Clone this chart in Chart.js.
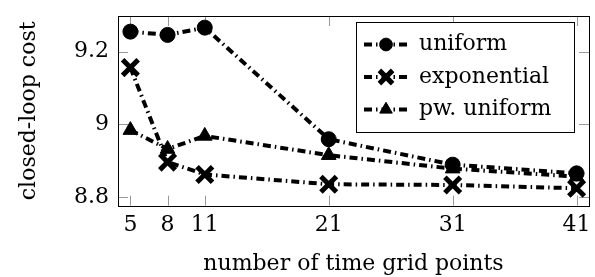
<!DOCTYPE html>
<html>
<head>
<meta charset="utf-8">
<script src="https://cdn.jsdelivr.net/npm/chart.js@4.4.1/dist/chart.umd.min.js"></script>
<style>
  html, body { margin: 0; padding: 0; background: #fff; overflow: hidden; }
  #wrap { width: 605px; height: 277px; }
</style>
</head>
<body>
<div id="wrap"><canvas id="costChart" width="605" height="277"></canvas></div>
<script>
// values
const gridPoints = [5, 8, 11, 21, 31, 41];
const uniformCost = [9.255, 9.246, 9.266, 8.959, 8.889, 8.865];
const exponentialCost = [9.156, 8.896, 8.862, 8.835, 8.833, 8.824];
const pwUniformCost = [8.984, 8.932, 8.968, 8.915, 8.878, 8.856];
const seriesLabels = ['uniform', 'exponential', 'pw. uniform'];
const xTicks = [5, 8, 11, 21, 31, 41];
const yTicks = [8.8, 9, 9.2];
const yTickLabels = ['8.8', '9', '9.2'];

const serif = '"DejaVu Serif", serif';
const dashDot = [8, 4, 1.5, 4];

function makeSeries(label, values, pointStyle, radius, markerWidth) {
  return {
    label: label,
    data: gridPoints.map((g, i) => ({ x: g, y: values[i] })),
    borderColor: '#000',
    backgroundColor: '#000',
    borderWidth: 4,
    borderDash: dashDot,
    pointStyle: pointStyle,
    pointRadius: radius,
    pointBorderWidth: markerWidth,
    pointBackgroundColor: '#000',
    pointBorderColor: '#000',
    tension: 0
  };
}

// frame + inward ticks on all four sides, like pgfplots
const framePlugin = {
  id: 'frame',
  beforeDatasetsDraw(chart) {
    const { ctx, chartArea: a, scales: { x, y } } = chart;
    ctx.save();
    ctx.strokeStyle = '#999';
    ctx.lineWidth = 1;
    ctx.beginPath();
    x.ticks.forEach(t => {
      const px = Math.round(x.getPixelForValue(t.value)) + 0.5;
      ctx.moveTo(px, a.bottom); ctx.lineTo(px, a.bottom - 10);
      ctx.moveTo(px, a.top); ctx.lineTo(px, a.top + 10);
    });
    y.ticks.forEach(t => {
      const py = Math.round(y.getPixelForValue(t.value)) + 0.5;
      ctx.moveTo(a.left, py); ctx.lineTo(a.left + 10, py);
      ctx.moveTo(a.right, py); ctx.lineTo(a.right - 10, py);
    });
    ctx.stroke();
    ctx.strokeStyle = '#000';
    ctx.strokeRect(Math.round(a.left) + 0.5, Math.round(a.top) + 0.5, Math.round(a.width), Math.round(a.height));
    ctx.restore();
  }
};

// boxed legend in the upper right corner with line sample + marker
const boxLegend = {
  id: 'boxLegend',
  afterDatasetsDraw(chart) {
    const { ctx, chartArea: a } = chart;
    const w = 218, h = 110;
    const right = a.right - 15, top = a.top + 6, left = right - w;
    ctx.save();
    ctx.fillStyle = '#fff';
    ctx.fillRect(left, top, w, h);
    ctx.strokeStyle = '#000';
    ctx.lineWidth = 1;
    ctx.strokeRect(Math.round(left) + 0.5, Math.round(top) + 0.5, w, h);
    chart.data.datasets.forEach((ds, i) => {
      const cy = top + 22.5 + i * 32.5;
      const x0 = left + 8;
      ctx.setLineDash(ds.borderDash);
      ctx.lineWidth = ds.borderWidth;
      ctx.strokeStyle = '#000';
      ctx.beginPath();
      ctx.moveTo(x0, cy);
      ctx.lineTo(x0 + 44, cy);
      ctx.stroke();
      ctx.setLineDash([]);
      ctx.fillStyle = '#000';
      ctx.lineWidth = ds.pointBorderWidth;
      if (Chart.helpers && Chart.helpers.drawPoint) {
        Chart.helpers.drawPoint(ctx, {
          pointStyle: ds.pointStyle,
          radius: ds.pointRadius * 0.85,
          rotation: 0,
          borderWidth: ds.pointBorderWidth
        }, x0 + 22, cy);
      }
      ctx.fillStyle = '#000';
      ctx.font = '22px ' + serif;
      ctx.textBaseline = 'middle';
      ctx.textAlign = 'left';
      ctx.fillText(ds.label, x0 + 55, cy);
    });
    ctx.restore();
  }
};

new Chart(document.getElementById('costChart'), {
  type: 'line',
  data: {
    datasets: [
      makeSeries(seriesLabels[0], uniformCost, 'circle', 7.5, 1),
      makeSeries(seriesLabels[1], exponentialCost, 'crossRot', 11, 5),
      makeSeries(seriesLabels[2], pwUniformCost, 'triangle', 8.5, 1)
    ]
  },
  options: {
    responsive: false,
    animation: false,
    devicePixelRatio: 1,
    layout: { padding: { top: 13, right: 7, left: 0, bottom: 0 } },
    plugins: {
      legend: { display: false },
      tooltip: { enabled: false }
    },
    scales: {
      x: {
        type: 'linear',
        min: 4,
        max: 42,
        afterBuildTicks: s => { s.ticks = xTicks.map(v => ({ value: v })); },
        afterFit: s => { s.height = 71.3; s.paddingLeft = 0; s.paddingRight = 0; },
        grid: { display: false, drawTicks: false },
        border: { display: false },
        ticks: {
          color: '#000',
          padding: 6,
          maxRotation: 0,
          font: { family: serif, size: 22 },
          callback: v => String(v)
        },
        title: {
          display: true,
          text: 'number of time grid points',
          color: '#000',
          padding: 0,
          font: { family: serif, size: 22 }
        }
      },
      y: {
        min: 8.776,
        max: 9.298,
        afterBuildTicks: s => { s.ticks = yTicks.map(v => ({ value: v })); },
        afterFit: s => { s.width = 118; s.paddingTop = 0; s.paddingBottom = 0; },
        grid: { display: false, drawTicks: false },
        border: { display: false },
        ticks: {
          color: '#000',
          padding: 9,
          font: { family: serif, size: 22 },
          callback: v => yTickLabels[yTicks.indexOf(v)]
        },
        title: {
          display: true,
          text: 'closed-loop cost',
          color: '#000',
          padding: 16,
          font: { family: serif, size: 22 }
        }
      }
    }
  },
  plugins: [framePlugin, boxLegend]
});
</script>
</body>
</html>
